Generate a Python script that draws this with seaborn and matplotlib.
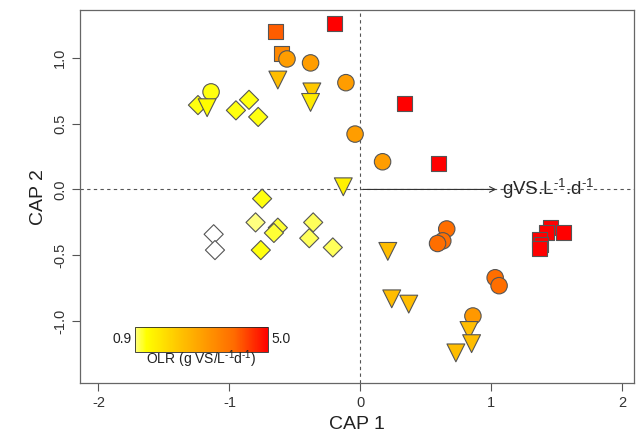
import numpy as np
import pandas as pd
import seaborn as sns
import matplotlib as mpl
from matplotlib import pyplot as plt
from matplotlib.colors import LinearSegmentedColormap, Normalize

# CAP scores, one list per treatment shape
sq_x = [-0.65, -0.60, -0.20, 0.34, 0.60, 1.45, 1.55, 1.42, 1.37, 1.38, 1.37]
sq_y = [1.20, 1.03, 1.26, 0.65, 0.20, -0.29, -0.33, -0.33, -0.38, -0.42, -0.45]
sq_olr = [4.1, 3.4, 5.0, 5.0, 5.0, 5.0, 5.0, 5.0, 5.0, 5.0, 5.0]

ci_x = [-1.14, -0.56, -0.38, -0.11, -0.04, 0.17, 0.66, 0.63, 0.59, 1.03, 1.06, 0.86]
ci_y = [0.74, 0.99, 0.96, 0.81, 0.42, 0.21, -0.30, -0.39, -0.41, -0.67, -0.73, -0.96]
ci_olr = [1.2, 3.0, 3.0, 3.0, 3.0, 3.0, 3.9, 3.9, 3.9, 3.9, 3.9, 3.1]

tr_x = [-0.63, -0.37, -0.38, -1.17, -0.13, 0.21, 0.24, 0.37, 0.83, 0.85, 0.73]
tr_y = [0.83, 0.74, 0.66, 0.62, 0.02, -0.47, -0.83, -0.87, -1.07, -1.17, -1.24]
tr_olr = [2.4, 2.2, 1.6, 1.3, 1.5, 2.4, 2.4, 2.4, 2.4, 2.4, 2.4]

di_x = [-1.24, -0.95, -0.85, -0.78, -0.75, -0.80, -0.63, -0.66, -0.76, -0.36, -0.39, -0.21, -1.12, -1.11]
di_y = [0.64, 0.60, 0.68, 0.55, -0.07, -0.25, -0.29, -0.33, -0.46, -0.25, -0.37, -0.44, -0.34, -0.46]
di_olr = [1.2, 1.2, 1.2, 1.2, 1.2, 0.9, 1.1, 1.1, 1.2, 1.0, 1.0, 1.0, 0.5, 0.5]

df = pd.concat([
    pd.DataFrame({'cap1': sq_x, 'cap2': sq_y, 'olr': sq_olr, 'shape': 's'}),
    pd.DataFrame({'cap1': ci_x, 'cap2': ci_y, 'olr': ci_olr, 'shape': 'o'}),
    pd.DataFrame({'cap1': tr_x, 'cap2': tr_y, 'olr': tr_olr, 'shape': 'v'}),
    pd.DataFrame({'cap1': di_x, 'cap2': di_y, 'olr': di_olr, 'shape': 'D'}),
])

olr_min, olr_max = 0.9, 5.0
cmap = LinearSegmentedColormap.from_list('olr', [
    (0.0, '#FFFF80'), (0.08, '#FFFF00'), (0.35, '#FFC000'),
    (0.5, '#FFA000'), (0.75, '#FF6A00'), (1.0, '#FF0000')])
cmap.set_under('white')
norm = Normalize(olr_min, olr_max)

sns.set_style("white")
plt.rcParams['font.family'] = ['Liberation Sans', 'DejaVu Sans']
plt.rcParams['axes.unicode_minus'] = False
plt.rcParams['mathtext.fontset'] = 'custom'
plt.rcParams['mathtext.rm'] = 'Liberation Sans'
plt.rcParams['mathtext.it'] = 'Liberation Sans'

fig = plt.figure(figsize=(6.41, 4.42), dpi=100)
ax = fig.add_axes([0.125, 0.133, 0.864, 0.844])

sizes = {'s': 115, 'o': 140, 'v': 165, 'D': 95}
for shp in ['s', 'D', 'o', 'v']:
    sub = df[df['shape'] == shp]
    sns.scatterplot(data=sub, x='cap1', y='cap2', hue='olr', palette=cmap,
                    hue_norm=norm, marker=shp, s=sizes[shp], edgecolor='#555555',
                    linewidth=0.8, legend=False, ax=ax, zorder=3)

ax.axhline(0, color='#555555', ls=(0, (3, 3)), lw=0.8, zorder=1)
ax.axvline(0, color='#555555', ls=(0, (3, 3)), lw=0.8, zorder=1)
ax.annotate('', xy=(1.06, 0), xytext=(0, 0),
            arrowprops=dict(arrowstyle='->', color='#333333', lw=0.8), zorder=2)
ax.text(1.08, 0, r'gVS.L$^{\text{-}1}$.d$^{\text{-}1}$', va='center', ha='left', fontsize=13.5)

ax.set_xlim(-2.14, 2.09)
ax.set_ylim(-1.47, 1.36)
ax.set_xticks([-2, -1, 0, 1, 2])
ax.set_yticks([-1.0, -0.5, 0.0, 0.5, 1.0])
ax.set_yticklabels(['-1.0', '-0.5', '0.0', '0.5', '1.0'], rotation=90, va='center')
ax.tick_params(direction='out', length=6, width=0.8, color='#555555',
               labelsize=10.5, labelcolor='#333333', bottom=True, left=True)
for sp in ax.spines.values():
    sp.set_color('#666666')
    sp.set_linewidth(0.9)
ax.set_xlabel('CAP 1', fontsize=14, color='#222222')
ax.set_ylabel('CAP 2', fontsize=14, color='#222222')

cax = fig.add_axes([0.211, 0.204, 0.207, 0.057])
cb = fig.colorbar(mpl.cm.ScalarMappable(norm=norm, cmap=cmap), cax=cax,
                  orientation='horizontal')
cb.set_ticks([])
cb.outline.set_linewidth(0.6)
fig.text(0.205, 0.232, '0.9', ha='right', va='center', fontsize=10, color='#222222')
fig.text(0.423, 0.232, '5.0', ha='left', va='center', fontsize=10, color='#222222')
fig.text(0.314, 0.188, r'OLR (g VS/L$^{\text{-}1}$d$^{\text{-}1}$)', ha='center', va='center',
         fontsize=10, color='#222222')

plt.savefig('out.png', dpi=100)
